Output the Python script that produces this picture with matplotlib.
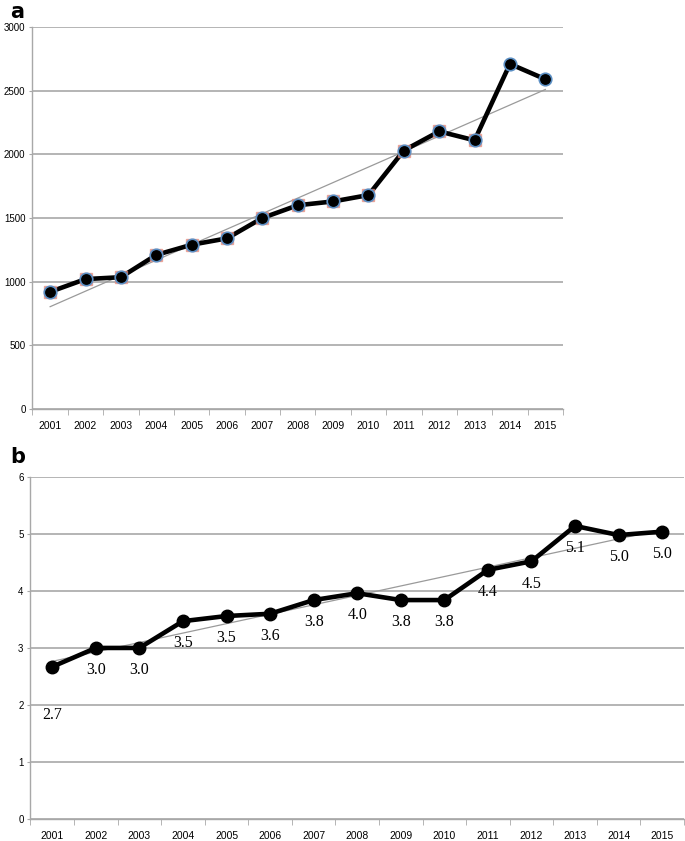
import numpy as np
import matplotlib.pyplot as plt

plt.rcParams["font.family"] = ["Liberation Sans", "DejaVu Sans"]

years = list(range(2001, 2016))
year_labels = [str(y) for y in years]

# panel a
values_a = [920, 1020, 1035, 1210, 1290, 1340, 1500, 1600, 1630, 1680,
            2030, 2180, 2110, 2710, 2590]
# panel b
values_b = [2.67, 3.0, 3.0, 3.47, 3.56, 3.6, 3.84, 3.96, 3.84, 3.84,
            4.37, 4.52, 5.14, 4.98, 5.04]
labels_b = ["2.7", "3.0", "3.0", "3.5", "3.5", "3.6", "3.8", "4.0", "3.8",
            "3.8", "4.4", "4.5", "5.1", "5.0", "5.0"]

GRID = "#a8a8a8"
TREND = "#9a9a9a"


def style_axis(ax, ymax, ystep):
    x = np.arange(len(years))
    ax.set_xlim(-0.5, len(years) - 0.5)
    ax.set_ylim(0, ymax)
    ax.set_yticks(np.arange(0, ymax + ystep / 2, ystep))
    ax.yaxis.grid(True, color=GRID, linewidth=1.2)
    ax.set_axisbelow(True)
    for s in ["top", "right"]:
        ax.spines[s].set_visible(False)
    for s in ["left", "bottom"]:
        ax.spines[s].set_color(GRID)
        ax.spines[s].set_linewidth(1.0)
    ax.set_xticks(x)
    ax.set_xticklabels(year_labels)
    ax.set_xticks(np.arange(-0.5, len(years)), minor=True)
    ax.tick_params(axis="x", which="major", length=0, pad=9, labelsize=7.5)
    ax.tick_params(axis="x", which="minor", length=4, color=GRID)
    ax.tick_params(axis="y", length=2, color=GRID, pad=3, labelsize=7)
    return x


fig = plt.figure(figsize=(6.85, 8.41), dpi=100)

# ---- a ----
ax1 = fig.add_axes([0.0474, 0.5137, 0.7745, 0.4542])
x = style_axis(ax1, 3000, 500)
coef = np.polyfit(x, values_a, 1)
ax1.plot(x, np.polyval(coef, x), color=TREND, linewidth=0.9, zorder=2)
ax1.plot(x, values_a, color="black", linewidth=3.3, zorder=3)
ax1.plot(x[:13], values_a[:13], linestyle="none", marker="s", markersize=9,
         markerfacecolor="#e58a7c", markeredgecolor="#e58a7c", alpha=0.7, zorder=4)
ax1.plot(x, values_a, linestyle="none", marker="o", markersize=9,
         markerfacecolor="black", markeredgecolor="#5b8fc4", markeredgewidth=1.2,
         zorder=5)
fig.text(0.015, 0.998, "a", fontsize=15, fontweight="bold", va="top", ha="left",
         family="DejaVu Sans")

# ---- b ----
ax2 = fig.add_axes([0.0445, 0.0262, 0.954, 0.4067])
x = style_axis(ax2, 6, 1)
coef = np.polyfit(x, values_b, 1)
ax2.plot(x, np.polyval(coef, x), color=TREND, linewidth=0.9, zorder=2)
ax2.plot(x, values_b, color="black", linewidth=3.3, marker="o", markersize=9,
         markerfacecolor="black", markeredgecolor="black", zorder=3)
for i, (v, lab) in enumerate(zip(values_b, labels_b)):
    off = -35 if i == 0 else -16
    ax2.annotate(lab, (x[i], v), xytext=(0, off), textcoords="offset points",
                 ha="center", va="center", fontsize=11.5,
                 family=["Liberation Serif", "DejaVu Serif"])
fig.text(0.015, 0.468, "b", fontsize=15, fontweight="bold", va="top", ha="left",
         family="DejaVu Sans")

fig.savefig("out.png", dpi=100)
